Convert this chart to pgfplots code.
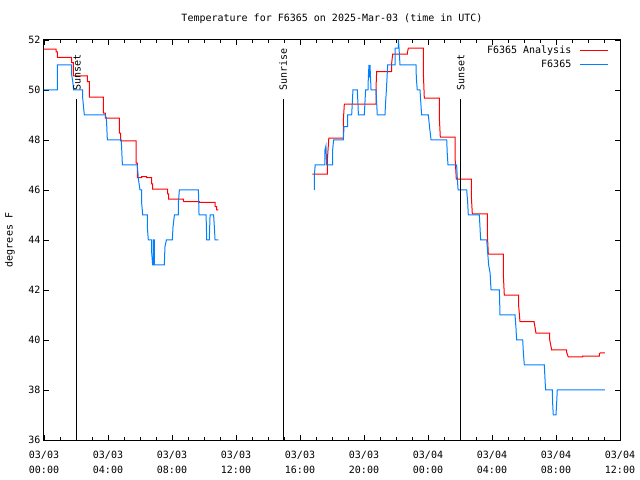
\documentclass[border=0pt]{standalone}
\usepackage{pgfplots}
\pgfplotsset{compat=1.18}
\usepackage{fontspec}
\setmainfont{DejaVu Sans Mono}
\definecolor{gpred}{RGB}{255,0,0}
\definecolor{gpblue}{RGB}{0,128,255}
\begin{document}
\fontsize{10bp}{12bp}\selectfont
\begin{tikzpicture}
\path[use as bounding box] (0bp,0bp) rectangle (640bp,480bp);
\node at (332bp,461bp) {Temperature for F6365 on 2025-Mar-03 (time in UTC)};
\node[rotate=90] at (10bp,240bp) {degrees F};
\begin{axis}[
  at={(44bp,40bp)}, anchor=south west, scale only axis,
  width=576bp, height=400bp,
  xmin=0, xmax=36, ymin=36, ymax=52,
  xtick={0,4,...,36}, minor x tick num=3,
  xticklabels={03/03\\00:00,03/03\\04:00,03/03\\08:00,03/03\\12:00,03/03\\16:00,03/03\\20:00,03/04\\00:00,03/04\\04:00,03/04\\08:00,03/04\\12:00},
  xticklabel style={align=center, font=\fontsize{10bp}{15bp}\selectfont, yshift=-8bp},
  ytick={36,38,...,52},
  /pgf/number format/assume math mode=true,
  tick align=inside,
  major tick length=5bp, minor tick length=3bp,
  every tick/.style={black, line width=0.8bp},
  axis line style={line width=1bp},
  legend plot pos=right,
  legend cell align=right,
  legend style={at={(1,1)}, anchor=north east, xshift=-8bp, yshift=-2bp, draw=none, fill=none,
    row sep=2bp, nodes={inner sep=1.5bp}},
  legend image code/.code={\path (0bp,0bp); \draw[#1] (7bp,0bp) -- (35bp,0bp);},
]
\addplot[gpred, line width=1bp] coordinates {
(0,51.63)(0.75,51.63)(0.75,51.52)(0.83,51.52)(0.83,51.3)(1.73,51.3)(1.73,51.09)(1.83,51.09)(1.83,50.56)(2.71,50.56)(2.71,50.33)(2.83,50.33)(2.83,49.71)(3.71,49.71)(3.71,49.07)(3.83,49.07)(3.83,48.87)(4.71,48.87)(4.71,48.27)(4.79,48.27)(4.79,47.96)(5.75,47.96)(5.75,47.07)(5.83,47.07)(5.83,46.49)(6.1,46.49)(6.1,46.53)(6.42,46.53)(6.42,46.49)(6.73,46.49)(6.73,46.24)(6.79,46.24)(6.79,46.03)(7.73,46.03)(7.73,45.84)(7.79,45.84)(7.79,45.63)(8.71,45.63)(8.71,45.57)(8.75,45.53)(9.71,45.53)(9.71,45.5)(10.69,45.5)(10.69,45.33)(10.79,45.33)(10.79,45.2)(10.9,45.2)
};
\addlegendentry{F6365 Analysis}
\addplot[gpblue, line width=1bp] coordinates {
(0,50)(0.83,50)(0.83,51)(1.73,51)(1.73,50.6)(1.8,50.33)(1.85,50)(2.42,50)(2.42,49.67)(2.52,49.0)(3.83,49.0)(3.9,48.87)(3.96,48.0)(4.83,48.0)(4.9,47.0)(5.83,47.0)(5.9,46.44)(6.0,46.0)(6.1,46.0)(6.1,45.5)(6.17,45.0)(6.46,45.0)(6.46,44.5)(6.52,44.0)(6.73,44.0)(6.73,43.5)(6.79,43.0)(6.83,43.0)(6.83,44.0)(6.9,44.0)(6.9,43.0)(7.52,43.0)(7.56,43.73)(7.65,44.0)(8.02,44.0)(8.06,44.5)(8.15,45.0)(8.4,45.0)(8.4,45.5)(8.46,46.0)(9.65,46.0)(9.69,45.0)(10.13,45.0)(10.17,44.0)(10.33,44.0)(10.38,45.0)(10.6,45.0)(10.65,44.5)(10.69,44.0)(10.9,44.0)
};
\addlegendentry{F6365}
\addplot[gpred, line width=1bp, forget plot] coordinates {
(16.77,46.63)(17.71,46.63)(17.71,47.2)(17.8,48.07)(18.71,48.07)(18.71,48.8)(18.77,49.43)(20.75,49.43)(20.75,50.07)(20.79,50.73)(21.73,50.73)(21.73,51.07)(21.79,51.43)(22.71,51.43)(22.71,51.49)(22.77,51.67)(23.71,51.67)(23.71,50.67)(23.77,49.67)(24.71,49.67)(24.71,48.87)(24.77,48.11)(25.69,48.11)(25.69,47.31)(25.77,46.43)(26.71,46.43)(26.71,45.73)(26.77,45.04)(27.71,45.04)(27.71,44.24)(27.77,43.43)(28.71,43.43)(28.71,42.6)(28.77,41.79)(29.67,41.79)(29.67,41.33)(29.75,40.73)(30.64,40.73)(30.64,40.69)(30.75,40.27)(31.6,40.27)(31.6,40.03)(31.73,39.6)(32.67,39.6)(32.67,39.5)(32.77,39.32)(33.67,39.32)(33.67,39.35)(34.71,39.35)(34.71,39.45)(34.77,39.48)(35.06,39.48)
};
\addplot[gpblue, line width=1bp, forget plot] coordinates {
(16.9,46.0)(16.9,46.6)(16.95,47.0)(17.56,47.0)(17.56,47.6)(17.62,47.76)(17.67,47.0)(18.04,47.0)(18.04,47.6)(18.1,48.0)(18.71,48.0)(18.75,48.53)(18.98,48.53)(18.98,49.0)(19.23,49.0)(19.27,49.5)(19.31,50.0)(19.58,50.0)(19.62,49.5)(19.65,49.0)(20.02,49.0)(20.06,49.5)(20.1,50.0)(20.25,50.0)(20.27,50.5)(20.31,51.0)(20.33,50.5)(20.375,51.0)(20.44,50.0)(20.75,50.0)(20.79,49.5)(20.83,49.0)(21.31,49.0)(21.35,49.5)(21.4,50.0)(21.44,50.5)(21.48,51.0)(21.94,51.0)(21.94,51.67)(22.15,51.67)(22.15,52.0)(22.19,51.67)(22.25,51.0)(23.25,51.0)(23.27,50.5)(23.33,50.0)(23.5,50.0)(23.55,49.5)(23.6,49.0)(24.02,49.0)(24.1,48.5)(24.19,48.0)(25.17,48.0)(25.2,47.5)(25.25,47.0)(25.79,47.0)(25.83,46.5)(25.88,46.0)(26.42,46.0)(26.48,45.5)(26.52,45.0)(27.21,45.0)(27.25,44.5)(27.29,44.0)(27.67,44.0)(27.73,43.5)(27.79,43.0)(27.88,42.69)(27.94,42.0)(28.46,42.0)(28.5,41.0)(29.44,41.0)(29.5,40.47)(29.54,40.0)(29.92,40.0)(29.96,39.49)(30.02,39.0)(31.27,39.0)(31.31,38.47)(31.35,38.0)(31.77,38.0)(31.79,37.47)(31.83,37.0)(32.0,37.0)(32.04,37.47)(32.08,38.0)(35.06,38.0)
};
\addplot[black, line width=1bp, forget plot] coordinates {(2.06,36)(2.06,49.64)};
\addplot[black, line width=1bp, forget plot] coordinates {(14.94,36)(14.94,49.64)};
\addplot[black, line width=1bp, forget plot] coordinates {(26.04,36)(26.04,49.64)};
\node[rotate=90, anchor=west, inner sep=0pt, xshift=1.5bp] at (axis cs:2.06,49.9) {Sunset};
\node[rotate=90, anchor=west, inner sep=0pt, xshift=1.5bp] at (axis cs:14.94,49.9) {Sunrise};
\node[rotate=90, anchor=west, inner sep=0pt, xshift=1.5bp] at (axis cs:26.04,49.9) {Sunset};
\end{axis}
\end{tikzpicture}
\end{document}
